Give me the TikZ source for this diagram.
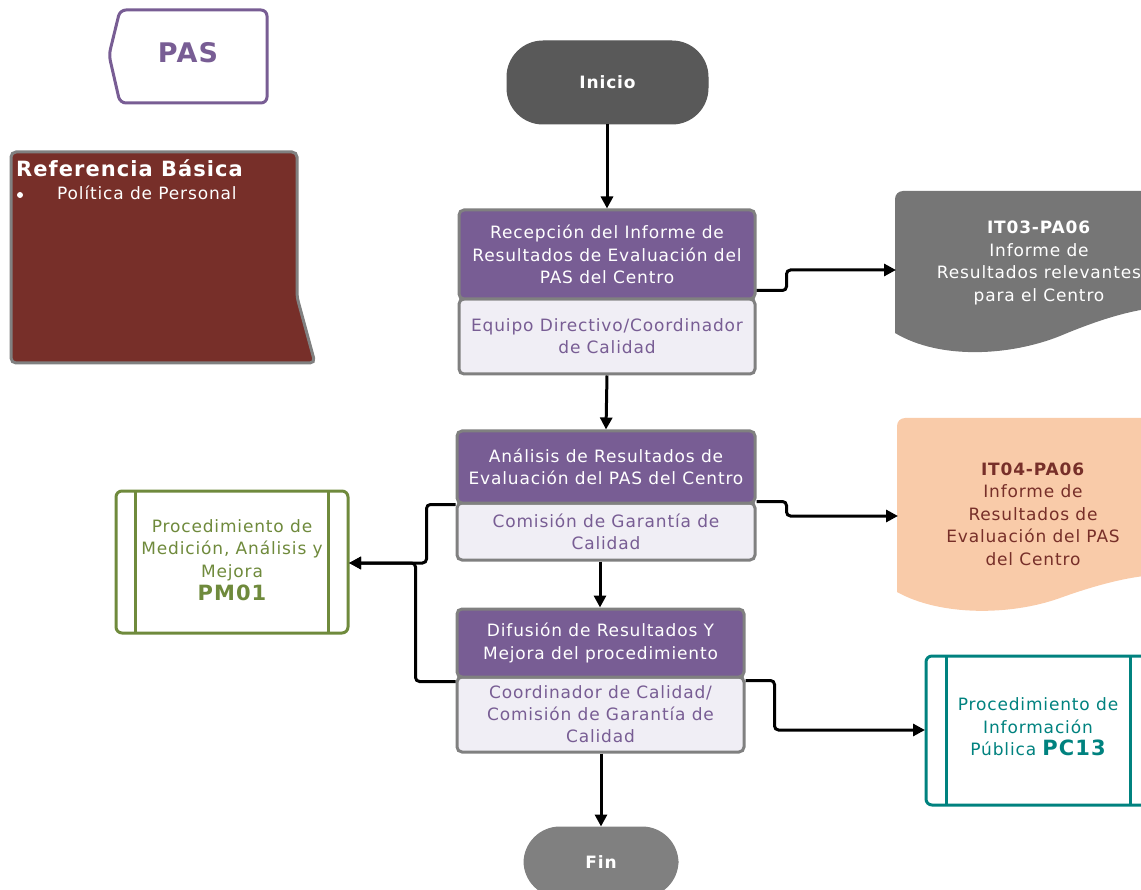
\documentclass[tikz,border=0pt]{standalone}
\usepackage{fontspec}
\setmainfont{DejaVu Sans}[LetterSpace=5]
\usetikzlibrary{arrows.meta,calc}
\definecolor{procpurple}{RGB}{120,93,148}
\definecolor{proclight}{RGB}{240,238,245}
\definecolor{bordergray}{RGB}{128,128,128}
\definecolor{inigray}{RGB}{89,89,89}
\definecolor{fingray}{RGB}{128,128,128}
\definecolor{refbrown}{RGB}{119,47,41}
\definecolor{docgray}{RGB}{118,118,118}
\definecolor{peach}{RGB}{249,203,169}
\definecolor{pmgreen}{RGB}{111,138,60}
\definecolor{pcteal}{RGB}{0,130,127}
\newcommand{\fsz}[2]{\fontsize{#1}{#2}\selectfont}
\tikzset{
  proctop/.style={draw=bordergray, line width=3pt, fill=procpurple, rounded corners=5pt,
    text=white, align=center, font=\fsz{17}{22.5}, inner sep=0pt},
  procbot/.style={draw=bordergray, line width=3pt, fill=proclight, rounded corners=5pt,
    text=procpurple, align=center, font=\fsz{17}{22}, inner sep=0pt},
  pill/.style={line width=1pt, rounded corners=36pt, text=white, font=\bfseries\fsz{17}{20},
    inner sep=0pt},
  flow/.style={line width=3pt, draw=black, rounded corners=4pt,
    -{Triangle[length=12pt,width=12pt]}},
  doctext/.style={align=center, font=\fsz{17}{22.5}, inner sep=0pt},
  subproc/.style={line width=3pt, rounded corners=6pt},
}
\begin{document}
\begin{tikzpicture}[x=1pt,y=-1pt]
\useasboundingbox (0,0) rectangle (1141,890);
\clip (0,0) rectangle (1141,890);

% PAS tag
\draw[procpurple, line width=3pt, rounded corners=6pt, fill=white]
  (120,10) -- (267,10) -- (267,103) -- (120,103) -- (109,55) -- cycle;
\node[text=procpurple, font=\bfseries\fsz{27}{30}] (pas) at (188,53) {PAS};

% Referencia basica
\draw[bordergray, line width=3pt, rounded corners=5pt, fill=refbrown]
  (11,152) -- (297,152) -- (297,297) -- (315,363) -- (11,363) -- cycle;
\node[anchor=base west, text=white, font=\bfseries\fsz{21}{24}, inner sep=0pt] (reft) at (16,177) {Referencia Básica};
\node[anchor=base west, text=white, font=\fsz{17}{18}, inner sep=0pt] (refb) at (57,200) {Política de Personal};
\fill[white] (reft.west |- 0,195) ++(4,0) circle (3pt) coordinate (bul);

% Inicio / Fin
\node[pill, fill=inigray, draw=inigray, minimum width=201pt, minimum height=83pt] (ini) at (607.5,82.5) {Inicio};
\node[pill, fill=fingray, draw=fingray, minimum width=154pt, minimum height=70pt] (fin) at (601,862) {Fin};

% Process boxes
\node[procbot, minimum width=296pt, minimum height=75pt] (b1b) at (607,336.5) {Equipo Directivo/Coordinador\\de Calidad};
\node[proctop, minimum width=296pt, minimum height=89pt] (b1t) at (607,254.5) {Recepción del Informe de\\Resultados de Evaluación del\\PAS del Centro};

\node[procbot, minimum width=298pt, minimum height=57pt] (b2b) at (606,531.5) {Comisión de Garantía de\\Calidad};
\node[proctop, minimum width=298pt, minimum height=72pt] (b2t) at (606,467) {Análisis de Resultados de\\Evaluación del PAS del Centro};

\node[procbot, minimum width=287pt, minimum height=75pt] (b3b) at (600.5,714.5) {Coordinador de Calidad/\\Comisión de Garantía de\\Calidad};
\node[proctop, minimum width=287pt, minimum height=68pt] (b3t) at (600.5,643) {Difusión de Resultados Y\\Mejora del procedimiento};

% Documents
\fill[docgray, rounded corners=8pt] (895,333) -- (895,191) -- (1200,191) [sharp corners] -- (1200,310)
  .. controls (1160,300) and (1110,315) .. (1060,336)
  .. controls (1010,356) and (940,360) .. (895,333) -- cycle;
\node[doctext, text=white] (it3) at (1039,263) {\textbf{IT03-PA06}\\Informe de\\Resultados relevantes\\para el Centro};
\coordinate (it3in) at (896,270);

\fill[peach, rounded corners=8pt] (897,592) -- (897,418) -- (1200,418) [sharp corners] -- (1200,578)
  .. controls (1160,568) and (1110,580) .. (1060,598)
  .. controls (1010,616) and (940,616) .. (897,592) -- cycle;
\node[doctext, text=refbrown] (it4) at (1033,514) {\textbf{IT04-PA06}\\Informe de\\Resultados de\\Evaluación del PAS\\del Centro};
\coordinate (it4in) at (898,516);

% Sub-processes
\draw[subproc, draw=pmgreen, fill=white] (116,491) rectangle (348,633);
\draw[pmgreen, line width=3pt] (135,491) -- (135,633) (328,491) -- (328,633);
\node[doctext, text=pmgreen] (pm) at (232,560)
  {Procedimiento de\\Medición, Análisis y\\Mejora\\[1pt]{\bfseries\fsz{21}{22}PM01}};

\draw[subproc, draw=pcteal, fill=white] (926,656) rectangle (1160,805);
\draw[pcteal, line width=3pt] (946,656) -- (946,805) (1130,656) -- (1130,805);
\node[doctext, text=pcteal] (pct) at (1038,727)
  {Procedimiento de\\Información\\Pública {\bfseries\fsz{21}{22}PC13}};
\coordinate (pcin) at (925,730);
\coordinate (pmin) at (349,563);

% Connectors
\draw[flow] (ini.south -| b1t.north) -- (b1t.north);
\draw[flow] ([yshift=10pt]b1t.south east) -- ++(30,0) |- (it3in);
\draw[flow] (b1b.south) -- (b2t.north);
\draw[flow] ([yshift=3pt]b2t.south east) -- ++(30,0) |- (it4in);
\draw[flow] ([yshift=-3pt]b2b.north west) -- ++(-29,0) |- (pmin);
\draw[flow] ([yshift=-6pt]b3b.north west) -- ++(-40,0) |- (pmin);
\draw[flow] (b2b.south -| 600,0) -- (b3t.north -| 600,0);
\draw[flow] ([yshift=-5pt]b3b.north east) -- ++(29,0) |- (pcin);
\draw[flow] (b3b.south -| fin.north) -- (fin.north);
\end{tikzpicture}
\end{document}
